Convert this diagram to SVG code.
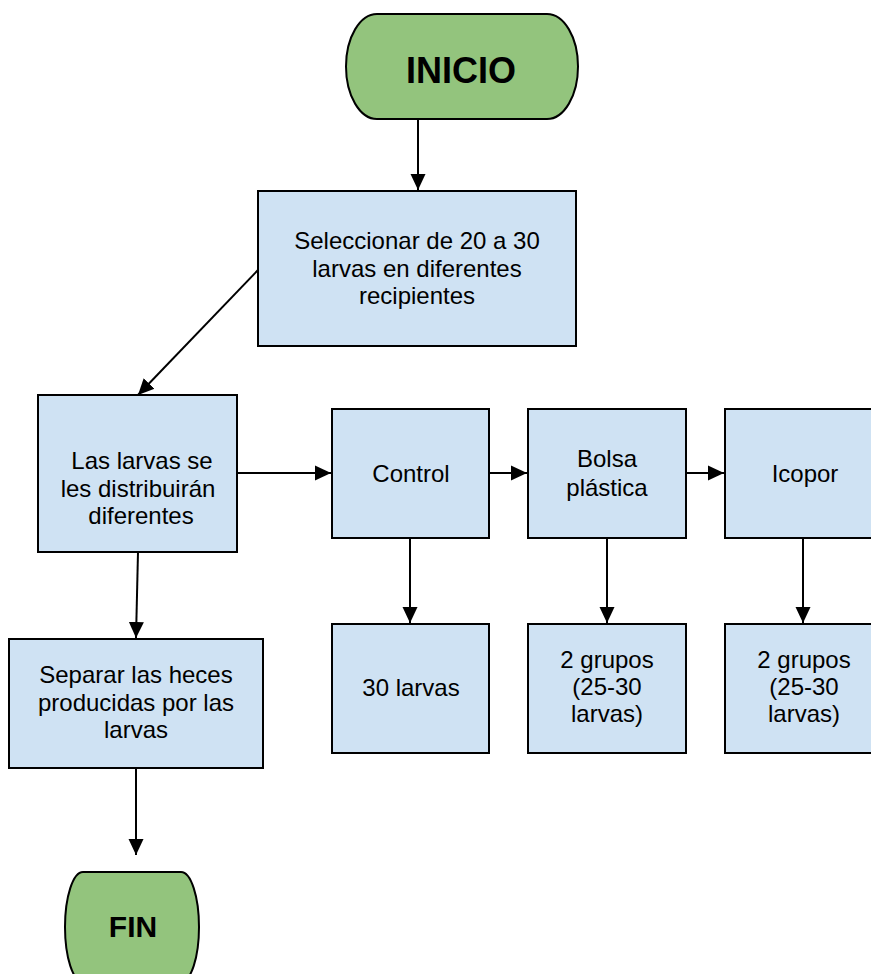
<svg xmlns="http://www.w3.org/2000/svg" width="871" height="974" viewBox="0 0 871 974">
  <style>
    .term { fill: #93c47d; stroke: #000; stroke-width: 2; }
    .box { fill: #cfe2f3; stroke: #000; stroke-width: 2; }
    .lbl { font-family: "Liberation Sans", Arial, sans-serif; font-size: 24px; fill: #000; text-anchor: middle; }
    .big { font-family: "Liberation Sans", Arial, sans-serif; font-weight: bold; fill: #000; text-anchor: middle; }
    .edge { stroke: #000; stroke-width: 2; fill: none; marker-end: url(#head); }
  </style>
  <defs>
    <marker id="head" markerUnits="userSpaceOnUse" markerWidth="17" markerHeight="17" viewBox="0 0 17 17" refX="16" refY="8.5" orient="auto">
      <path d="M0,1 L16,8.5 L0,16 Z" fill="#000"/>
    </marker>
  </defs>

  <rect width="871" height="974" fill="#fff"/>

  <g id="connectors">
    <line class="edge" x1="418" y1="120" x2="418" y2="190"/>
    <line class="edge" x1="258" y1="270" x2="138" y2="395"/>
    <line class="edge" x1="238" y1="473" x2="331" y2="473"/>
    <line class="edge" x1="489" y1="473" x2="527" y2="473"/>
    <line class="edge" x1="686" y1="473" x2="724" y2="473"/>
    <line class="edge" x1="410" y1="538" x2="410" y2="623"/>
    <line class="edge" x1="607" y1="538" x2="607" y2="623"/>
    <line class="edge" x1="803" y1="538" x2="803" y2="623"/>
    <line class="edge" x1="138" y1="552" x2="136" y2="638"/>
    <line class="edge" x1="136" y1="768" x2="136" y2="855"/>
  </g>

  <g id="inicio">
    <path class="term" d="M377,14 H547 A31,52.5 0 0 1 547,119 H377 A31,52.5 0 0 1 377,14 Z"/>
    <text class="big" x="461" y="83" font-size="36">INICIO</text>
  </g>

  <g id="seleccionar">
    <rect class="box" x="258" y="191" width="318" height="155"/>
    <text class="lbl" x="417" y="249">Seleccionar de 20 a 30</text>
    <text class="lbl" x="417" y="277">larvas en diferentes</text>
    <text class="lbl" x="417" y="304">recipientes</text>
  </g>

  <g id="distribuir">
    <rect class="box" x="38" y="395" width="199" height="157"/>
    <text class="lbl" x="142" y="469">Las larvas se</text>
    <text class="lbl" x="138" y="497">les distribuirán</text>
    <text class="lbl" x="141" y="524">diferentes</text>
  </g>

  <g id="control">
    <rect class="box" x="332" y="409" width="157" height="129"/>
    <text class="lbl" x="411" y="482">Control</text>
  </g>

  <g id="bolsa">
    <rect class="box" x="528" y="409" width="158" height="129"/>
    <text class="lbl" x="607" y="467">Bolsa</text>
    <text class="lbl" x="607" y="496">plástica</text>
  </g>

  <g id="icopor">
    <rect class="box" x="725" y="409" width="158" height="129"/>
    <text class="lbl" x="805" y="482">Icopor</text>
  </g>

  <g id="control-larvas">
    <rect class="box" x="332" y="624" width="157" height="129"/>
    <text class="lbl" x="411" y="696">30 larvas</text>
  </g>

  <g id="bolsa-grupos">
    <rect class="box" x="528" y="624" width="158" height="129"/>
    <text class="lbl" x="607" y="668">2 grupos</text>
    <text class="lbl" x="607" y="695">(25-30</text>
    <text class="lbl" x="607" y="722">larvas)</text>
  </g>

  <g id="icopor-grupos">
    <rect class="box" x="725" y="624" width="158" height="129"/>
    <text class="lbl" x="804" y="668">2 grupos</text>
    <text class="lbl" x="804" y="695">(25-30</text>
    <text class="lbl" x="804" y="722">larvas)</text>
  </g>

  <g id="separar">
    <rect class="box" x="9" y="639" width="254" height="129"/>
    <text class="lbl" x="136" y="683">Separar las heces</text>
    <text class="lbl" x="136" y="711">producidas por las</text>
    <text class="lbl" x="136" y="738">larvas</text>
  </g>

  <g id="fin">
    <path class="term" d="M83,872 H181 A18,55 0 0 1 181,982 H83 A18,55 0 0 1 83,872 Z"/>
    <text class="big" x="133" y="937" font-size="30">FIN</text>
  </g>
</svg>
